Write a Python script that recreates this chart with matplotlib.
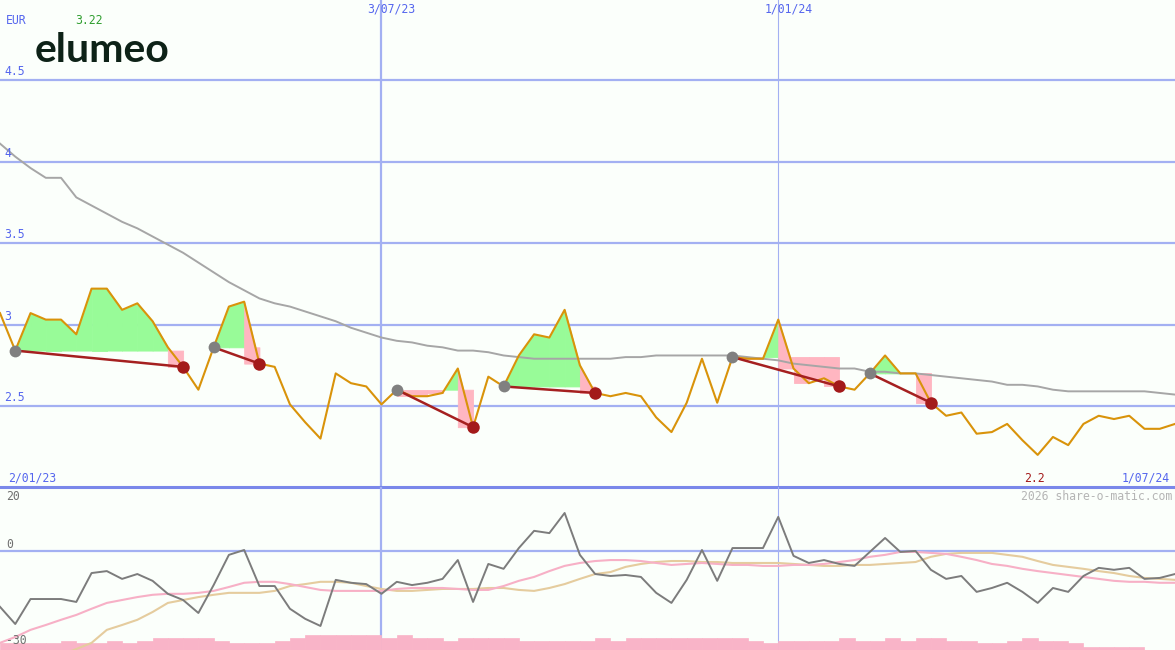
import numpy as np
import matplotlib
matplotlib.use("Agg")
from matplotlib import pyplot as plt

# weekly closes (EUR), first week starts Mon 9 Jan 2023
price = [3.07, 2.84, 3.07, 3.03, 3.03, 2.94, 3.22, 3.22, 3.09, 3.13,
         3.02, 2.86, 2.74, 2.60, 2.86, 3.11, 3.14, 2.76, 2.74, 2.51,
         2.40, 2.30, 2.70, 2.64, 2.62, 2.51, 2.60, 2.56, 2.56, 2.58,
         2.73, 2.37, 2.68, 2.62, 2.81, 2.94, 2.92, 3.09, 2.75, 2.58,
         2.56, 2.58, 2.56, 2.43, 2.34, 2.52, 2.79, 2.52, 2.80, 2.79,
         2.79, 3.03, 2.73, 2.64, 2.67, 2.62, 2.60, 2.70, 2.81, 2.70,
         2.70, 2.52, 2.44, 2.46, 2.33, 2.34, 2.39, 2.29, 2.20, 2.31,
         2.26, 2.39, 2.44, 2.42, 2.44, 2.36, 2.36, 2.39]

# long moving average (grey)
ma_long = [4.11, 4.03, 3.96, 3.90, 3.90, 3.78, 3.73, 3.68, 3.63, 3.59,
           3.54, 3.49, 3.44, 3.38, 3.32, 3.26, 3.21, 3.16, 3.13, 3.11,
           3.08, 3.05, 3.02, 2.98, 2.95, 2.92, 2.90, 2.89, 2.87, 2.86,
           2.84, 2.84, 2.83, 2.81, 2.80, 2.79, 2.79, 2.79, 2.79, 2.79,
           2.79, 2.80, 2.80, 2.81, 2.81, 2.81, 2.81, 2.81, 2.81, 2.80,
           2.79, 2.78, 2.76, 2.75, 2.74, 2.73, 2.73, 2.71, 2.71, 2.70,
           2.70, 2.69, 2.68, 2.67, 2.66, 2.65, 2.63, 2.63, 2.62, 2.60,
           2.59, 2.59, 2.59, 2.59, 2.59, 2.59, 2.58, 2.57]

# (buy week, sell week)
trades = [(1, 12), (14, 17), (26, 31), (33, 39), (48, 55), (57, 61)]

# lower panel: momentum and its two averages
momentum = [-17.2, -22.5, -14.8, -14.8, -14.8, -15.7, -6.8, -6.2, -8.6, -7.1,
            -9.2, -13.2, -15.1, -19.1, -10.5, -1.2, 0.3, -10.8, -10.8, -17.8,
            -20.9, -23.1, -8.9, -9.8, -10.2, -13.2, -9.5, -10.5, -9.8, -8.6,
            -2.8, -15.7, -4.0, -5.5, 0.9, 6.2, 5.5, 11.7, -1.2, -7.1,
            -7.7, -7.4, -8.0, -12.9, -16.0, -8.9, 0.3, -9.2, 0.9, 0.9,
            0.9, 10.5, -1.5, -3.7, -2.8, -4.0, -4.6, -0.3, 4.0, -0.3,
            0.0, -5.8, -8.6, -7.7, -12.6, -11.4, -9.8, -12.6, -16.0, -11.4,
            -12.6, -7.7, -5.2, -5.8, -5.2, -8.6, -8.3, -7.1]

mom_avg1 = [-28.3, -26.5, -24.3, -22.8, -21.2, -19.7, -17.8, -16.0, -15.1, -14.2,
            -13.5, -13.2, -13.2, -12.9, -12.3, -11.1, -9.8, -9.5, -9.5, -10.2,
            -11.1, -12.0, -12.3, -12.3, -12.3, -12.3, -11.7, -11.4, -11.4, -11.4,
            -11.7, -12.0, -12.0, -10.8, -9.2, -8.0, -6.2, -4.6, -3.7, -3.1,
            -2.8, -2.8, -3.1, -3.7, -4.3, -4.0, -3.7, -4.0, -4.3, -4.3,
            -4.6, -4.6, -4.3, -4.3, -4.0, -3.4, -2.8, -1.8, -1.2, -0.3,
            -0.3, -0.6, -0.9, -1.8, -2.8, -4.0, -4.6, -5.5, -6.2, -6.8,
            -7.4, -8.0, -8.6, -9.2, -9.5, -9.5, -9.8, -9.8]

mom_avg2 = [-40.0, -38.0, -36.0, -34.0, -32.0, -30.2, -28.3, -24.3, -22.8, -21.2,
            -18.8, -16.0, -15.1, -14.2, -13.5, -12.9, -12.9, -12.9, -12.3, -10.8,
            -10.2, -9.5, -9.5, -9.8, -10.8, -11.7, -12.3, -12.3, -12.0, -11.7,
            -11.7, -11.7, -11.4, -11.4, -12.0, -12.3, -11.4, -10.2, -8.6, -7.1,
            -6.5, -4.9, -4.0, -3.4, -3.1, -3.1, -3.4, -3.4, -3.7, -3.7,
            -3.7, -3.7, -4.0, -4.3, -4.6, -4.6, -4.3, -4.3, -4.0, -3.7,
            -3.4, -1.8, -0.9, -0.6, -0.6, -0.6, -1.2, -1.8, -3.1, -4.3,
            -4.9, -5.5, -6.2, -6.8, -7.7, -8.3, -8.6, -8.9]

# relative weekly volume (one bar per week)
volume = [7, 7, 7, 7, 9, 7, 7, 9, 7, 9, 12, 12, 12, 12, 9, 7, 7, 7, 9, 12,
          15, 15, 15, 15, 15, 12, 15, 12, 12, 9, 12, 12, 12, 12, 9, 9, 9, 9, 9, 12,
          9, 12, 12, 12, 12, 12, 12, 12, 12, 9, 7, 9, 9, 9, 9, 12, 9, 9, 12, 9,
          12, 12, 9, 9, 7, 7, 9, 12, 9, 9, 7, 3, 3, 3, 3, 0, 0]

start = np.datetime64("2023-01-09")
vlines = ["2023-07-03", "2024-01-01"]
vline_labels = ["3/07/23", "1/01/24"]

W, H = 1175, 650
BG = "#fbfffb"
GRID = "#a3b0f2"
BLUE_TXT = "#5566ee"
GREEN = "#98fb98"
PINK = "#ffb6c1"
MONO = "DejaVu Sans Mono"

fig = plt.figure(figsize=(W / 100, H / 100), dpi=100, facecolor=BG)
ax1 = fig.add_axes([0, 163 / H, 1, 487 / H], facecolor=BG)
axv = fig.add_axes([0, 0, 1, 163 / H], facecolor=BG)
ax2 = fig.add_axes([0, 0, 1, 163 / H], sharex=axv)
ax2.patch.set_visible(False)

x = np.arange(len(price))
xmax = W / 15.26
for a in (ax1, axv, ax2):
    a.set_xlim(0, xmax)
    a.set_axis_off()
ax1.set_ylim(2.003, 4.991)
ax2.set_ylim(-30.5, 19.7)
axv.set_ylim(0, 163)

# grid
for lvl in [2.5, 3.0, 3.5, 4.0, 4.5]:
    ax1.axhline(lvl, color=GRID, lw=1.6, zorder=1)
for d, lw in zip(vlines, [1.6, 0.8]):
    pos = (np.datetime64(d) - start) / np.timedelta64(7, "D")
    ax1.axvline(pos, color=GRID, lw=lw, zorder=1)
    axv.axvline(pos, color=GRID, lw=lw, zorder=1)
ax2.axhline(0, color=GRID, lw=1.6, zorder=1)
ax1.axhline(2.003, color="#7a88ea", lw=2.2, zorder=6, clip_on=False)

# trade fills: green while above buy price, pink for weeks closing below it
for b, s in trades:
    bp = price[b]
    for i in range(b + 1, s + 1):
        p0, p1 = price[i - 1], price[i]
        if p1 >= bp:
            if p0 >= bp:
                xs, top = [i - 1, i], [p0, p1]
            else:
                xc = i - 1 + (bp - p0) / (p1 - p0)
                xs, top = [xc, i], [bp, p1]
            ax1.fill_between(xs, top, bp, color=GREEN, ec=GREEN, lw=0.6,
                             zorder=2)
        else:
            if p0 > bp:
                xc = i - 1 + (p0 - bp) / (p0 - p1)
                xs, top = [i - 1, xc, i], [p0, bp, bp]
            else:
                xs, top = [i - 1, i], [bp, bp]
            ax1.fill_between(xs, top, p1, color=PINK, ec=PINK, lw=0.6,
                             zorder=2.1)

ax1.plot(x, ma_long, color="#a6a6a6", lw=1.4, zorder=3)
ax1.plot(x, price, color="#d9930a", lw=1.5, zorder=4)
for b, s in trades:
    ax1.plot([b, s], [price[b], price[s]], color="#a52020", lw=1.8, zorder=5)
    ax1.plot(b, price[b], "o", color="#808080", ms=8.5, mec="none", zorder=6)
    ax1.plot(s, price[s], "o", color="#a31a1a", ms=9, mec="none", zorder=6)

# lower panel
axv.bar(np.arange(len(volume)), volume, width=1.0, align="edge",
        color="#f9b4c8", ec="#f9b4c8", lw=0.5, zorder=2)
ax2.plot(x, mom_avg2, color="#e5cc9e", lw=1.5, zorder=3)
ax2.plot(x, mom_avg1, color="#f7b0c6", lw=1.5, zorder=3)
ax2.plot(x, momentum, color="#7c7c7c", lw=1.4, zorder=4)


def ftxt(px, py, s, **kw):
    kw.setdefault("family", MONO)
    kw.setdefault("fontsize", 8.3)
    kw.setdefault("va", "center")
    fig.text(px / W, 1 - py / H, s, **kw)


# price labels above each grid line
for lvl, lab in zip([2.5, 3.0, 3.5, 4.0, 4.5], ["2.5", "3", "3.5", "4", "4.5"]):
    ax1.annotate(lab, xy=(0, lvl), xycoords=("axes fraction", "data"),
                 xytext=(4, 2), textcoords="offset pixels", va="bottom",
                 family=MONO, fontsize=8.3, color=BLUE_TXT)

for d, lab in zip(vlines, vline_labels):
    pos = (np.datetime64(d) - start) / np.timedelta64(7, "D")
    ax1.annotate(lab, xy=(pos, 1), xycoords=("data", "axes fraction"),
                 xytext=(10, -9), textcoords="offset pixels", ha="center",
                 va="center", family=MONO, fontsize=8.3, color=BLUE_TXT)

ftxt(6, 20, "EUR", color=BLUE_TXT)
ftxt(75, 20, f"{max(price):.2f}", color="#2f9e2f")
fig.text(35 / W, 1 - 62 / H, "elumeo", family="Lato", fontweight="bold",
         fontsize=29.5, color="#0d2217", va="baseline")
ftxt(8, 478, "2/01/23", color=BLUE_TXT)
ftxt(1034, 478, f"{min(price):.1f}", color="#a31a1a", ha="center")
ftxt(1170, 478, "1/07/24", color=BLUE_TXT, ha="right")
ftxt(1172, 496, "2026 share-o-matic.com", color="#b5b5b5", ha="right")
ftxt(6, 496, "20", color="#707070")
ftxt(6, 545, "0", color="#707070")
ftxt(6, 641, "-30", color="#707070")

fig.savefig("out.png", dpi=100, facecolor=BG)
